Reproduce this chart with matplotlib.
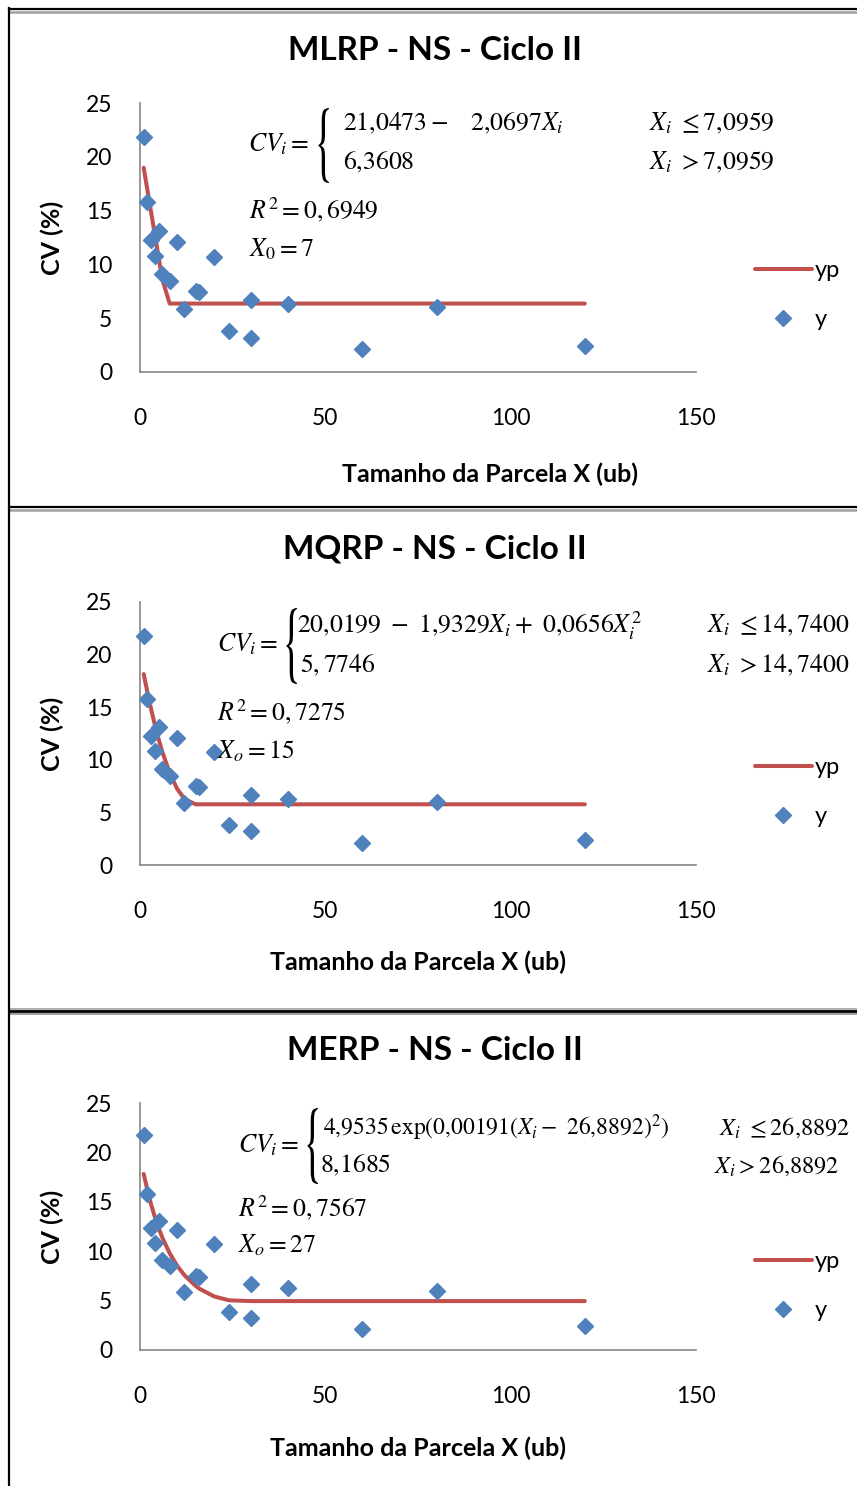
import matplotlib
matplotlib.use("Agg")
import matplotlib.pyplot as plt
from matplotlib.lines import Line2D
from matplotlib.patches import PathPatch
from matplotlib.textpath import TextPath
from matplotlib.font_manager import FontProperties
from matplotlib.transforms import Affine2D

plt.rcParams["mathtext.fontset"] = "stix"
plt.rcParams["font.family"] = ["Lato", "DejaVu Sans"]

W, H = 857, 1486

# plot size (ub) and observed CV (%)
x = [1, 2, 3, 4, 5, 6, 8, 10, 12, 15, 16, 20, 24, 30, 30, 40, 60, 80, 120]
y = [21.8, 15.8, 12.3, 10.8, 13.1, 9.1, 8.5, 12.1, 5.9, 7.5, 7.4, 10.7,
     3.8, 6.7, 3.2, 6.3, 2.1, 6.0, 2.4]

# fitted values (yp) of each model at the same x
yp_mlrp = [18.98, 16.91, 14.84, 12.77, 10.70, 8.63, 6.36, 6.36, 6.36, 6.36,
           6.36, 6.36, 6.36, 6.36, 6.36, 6.36, 6.36, 6.36, 6.36]
yp_mqrp = [18.15, 16.42, 14.81, 13.34, 12.00, 10.78, 8.76, 7.25, 6.27, 5.77,
           5.77, 5.77, 5.77, 5.77, 5.77, 5.77, 5.77, 5.77, 5.77]
yp_merp = [17.82, 16.17, 14.73, 13.47, 12.37, 11.40, 9.79, 8.54, 7.57, 6.49,
           6.21, 5.42, 5.03, 4.95, 4.95, 4.95, 4.95, 4.95, 4.95]

titles = ["MLRP - NS - Ciclo II", "MQRP - NS - Ciclo II", "MERP - NS - Ciclo II"]
x_ticks = [0, 50, 100, 150]
y_ticks = [0, 5, 10, 15, 20, 25]

BLUE = "#4F81BD"
RED = "#C0504D"
GRAY = "#868686"


def fx(px):
    return px / W


def fy(py):
    return 1 - py / H


def brace(x0, y_top, y_bot, w):
    tp = TextPath((0, 0), "{", size=1, prop=FontProperties(family="STIXGeneral"))
    e = tp.get_extents()
    tr = (Affine2D().translate(-e.x0, -e.y0)
          .scale(w / e.width, (y_bot - y_top) / e.height)
          .translate(x0, H - y_bot)
          .scale(1 / W, 1 / H)) + fig.transFigure
    fig.patches.append(PathPatch(tp, transform=tr, color="black", lw=0))


def ftext(px, py, s, size=18.5, **kw):
    fig.text(fx(px), fy(py), s, fontsize=size, family="STIXGeneral",
             va="center", ha=kw.pop("ha", "left"), **kw)


fig = plt.figure(figsize=(W / 100, H / 100), dpi=100)

# panel geometry: (pixel y of 0, pixel y of 25, title y, xlabel x, xlabel y, legend y)
panels = [
    (372, 103, 51, 490, 474, 270),
    (865, 602, 549, 418, 962, 767),
    (1350, 1103, 1051, 418, 1448, 1261),
]
fits = [yp_mlrp, yp_mqrp, yp_merp]

for i, (y0, y25, ty, xlx, xly, ly) in enumerate(panels):
    ax = fig.add_axes([fx(140), fy(y0), fx(696) - fx(140), (y0 - y25) / H])
    ax.plot(x, fits[i], color=RED, lw=2.9, label="yp", solid_capstyle="round",
            zorder=2)
    ax.plot(x, y, "D", color=BLUE, ms=8.5, mec=BLUE, label="y", zorder=3,
            clip_on=False)
    ax.set_xlim(0, 150)
    ax.set_ylim(0, 25)
    ax.set_xticks(x_ticks)
    ax.set_yticks(y_ticks)
    for s in ["top", "right"]:
        ax.spines[s].set_visible(False)
    for s in ["left", "bottom"]:
        ax.spines[s].set_color(GRAY)
        ax.spines[s].set_linewidth(1.2)
    ax.tick_params(axis="x", length=0, pad=26, labelsize=16.5)
    ax.tick_params(axis="y", length=0, pad=20, labelsize=16.5)
    ax.set_facecolor("none")

    fig.text(fx(435), fy(ty), titles[i], fontsize=24, fontweight="bold",
             ha="center", va="center")
    fig.text(fx(xlx), fy(xly), "Tamanho da Parcela X (ub)",
             fontsize=18, fontweight="bold", ha="center", va="center")
    fig.text(fx(52), fy((y0 + y25) / 2), "CV (%)", fontsize=18,
             fontweight="bold", rotation=90, ha="center", va="center")

    ax.legend(loc="center left", bbox_to_anchor=(fx(755), fy(ly + 25)),
              bbox_transform=fig.transFigure, frameon=False, fontsize=17,
              handlelength=2.4, handletextpad=0.15, labelspacing=1.2,
              borderpad=0, borderaxespad=0)

# equations - MLRP
ftext(248, 145, r"$CV_i =$")
brace(318, 108, 183, 11)
ftext(343, 124, r"$21{,}0473-\ \ \ 2{,}0697X_i$")
ftext(343, 163, r"$6{,}3608$")
ftext(649, 124, r"$X_i\ \leq 7{,}0959$")
ftext(649, 163, r"$X_i\ > 7{,}0959$")
ftext(249, 210, r"$R^2 = 0, 6949$")
ftext(249, 250, r"$X_0 = 7$")

# equations - MQRP
ftext(217, 645, r"$CV_i =$")
brace(286, 608, 684, 11)
ftext(297, 626, r"$20{,}0199\ -\ 1{,}9329X_i +\ 0{,}0656X_i^2$")
ftext(300, 666, r"$5, 7746$")
ftext(707, 626, r"$X_i\ \leq 14, 7400$")
ftext(707, 666, r"$X_i\ > 14, 7400$")
ftext(217, 712, r"$R^2 = 0, 7275$")
ftext(217, 752, r"$X_o = 15$")

# equations - MERP
ftext(238, 1146, r"$CV_i =$")
brace(307, 1108, 1184, 11)
ftext(323, 1128, r"$4{,}9535\,\mathrm{exp}(0{,}00191(X_i -\ 26{,}8892)^2)$", size=17)
ftext(320, 1166, r"$8{,}1685$")
ftext(719, 1128, r"$X_i\ \leq 26{,}8892$", size=17.5)
ftext(714, 1166, r"$X_i > 26{,}8892$", size=17.5)
ftext(238, 1208, r"$R^2 = 0, 7567$")
ftext(238, 1246, r"$X_o = 27$")

# frame lines around the three charts
def hline(py, color, lw):
    fig.add_artist(Line2D([fx(9), 1], [fy(py), fy(py)], color=color, lw=lw,
                          transform=fig.transFigure))


hline(9, "black", 1.6)
hline(12, "#A0A0A0", 1.8)
hline(506.5, "black", 1.6)
hline(509.5, "#A0A0A0", 1.8)
hline(1008.5, "#A0A0A0", 1.2)
hline(1011, "black", 2.0)
hline(1013.5, "#A0A0A0", 1.4)
fig.add_artist(Line2D([fx(9), fx(9)], [fy(8), 0], color="black", lw=1.6,
                      transform=fig.transFigure))

fig.savefig("out.png", dpi=100)
